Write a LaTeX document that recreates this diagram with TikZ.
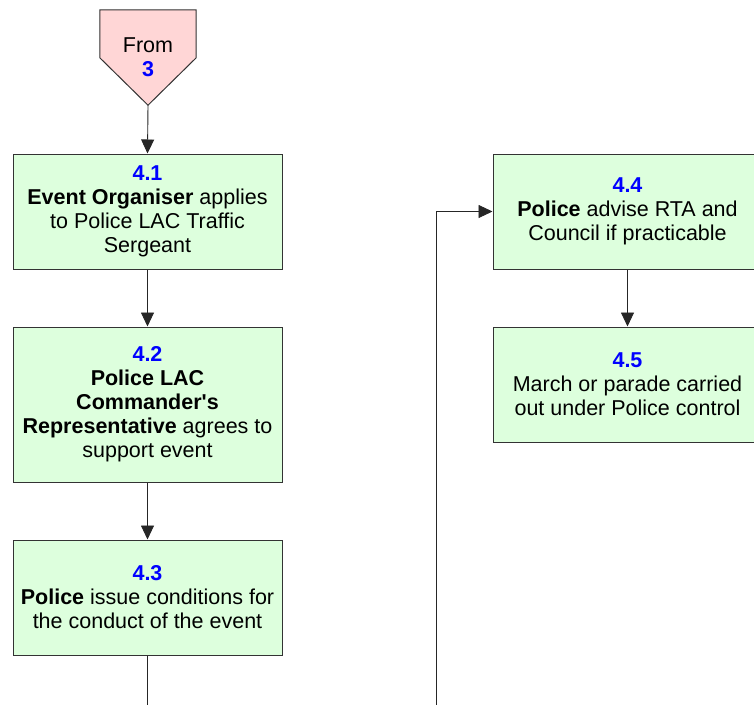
\documentclass[tikz,border=0pt]{standalone}
\usepackage{fontspec}
\setmainfont{Liberation Sans}
\usetikzlibrary{calc}
\usetikzlibrary{positioning}
\usetikzlibrary{backgrounds}
\usetikzlibrary{arrows.meta}
\definecolor{lightGreen}{HTML}{DDFFDD}
\definecolor{lightPink}{HTML}{FFD6D6}
\definecolor{stepBlue}{HTML}{0000FF}
\newcommand{\stepnum}[1]{\textcolor{stepBlue}{\textbf{#1}}}

\begin{document}
\begin{tikzpicture}[x=1pt, y=-1pt, inner sep=0pt, align=center, font=\fontsize{21.5}{24}\selectfont,
    stepbox/.style={rectangle, draw=black!80, line width=1pt, fill=lightGreen, minimum width=269pt, minimum height=115pt},
    flow/.style={draw=black!85, line width=0.9pt, -{Triangle[width=13pt,length=14pt]}}]
    \useasboundingbox (0,0) rectangle (754,704);
    \clip (0,0) rectangle (754,704);

    \node (from) [minimum width=96pt, minimum height=95pt] at (148,57.5) {From\\\stepnum{3}};
    \begin{scope}[on background layer]
        \draw [draw=black!80, line width=1pt, fill=lightPink] (from.north west) -- (from.north east) -- ($(from.north east)+(0,48)$) -- (from.south) -- ($(from.north west)+(0,48)$) -- cycle;
    \end{scope}

    \node (s41) [stepbox] at (147.5,211.5) {\stepnum{4.1}\\\textbf{Event Organiser} applies\\to Police LAC Traffic\\Sergeant};
    \node (s42) [stepbox, minimum height=155pt, below=57pt of s41] {\stepnum{4.2}\\\textbf{Police LAC}\\\textbf{Commander\textquotesingle s}\\\textbf{Representative} agrees to\\support event};
    \node (s43) [stepbox, below=57pt of s42] {\stepnum{4.3}\\\textbf{Police} issue conditions for\\the conduct of the event};
    \node (s44) [stepbox] at (627.5,211.5) {\stepnum{4.4}\\\textbf{Police} advise RTA and\\Council if practicable};
    \node (s45) [stepbox, below=57pt of s44] {\stepnum{4.5}\\March or parade carried\\out under Police control};

    \draw [flow] (from.south) -- (s41.north);
    \draw [flow] (s41) -- (s42);
    \draw [flow] (s42) -- (s43);
    \draw [flow] (s43.south) -- ++(0,70) -| ($(s44.west)+(-56,0)$) -- (s44.west);
    \draw [flow] (s44) -- (s45);
\end{tikzpicture}
\end{document}
